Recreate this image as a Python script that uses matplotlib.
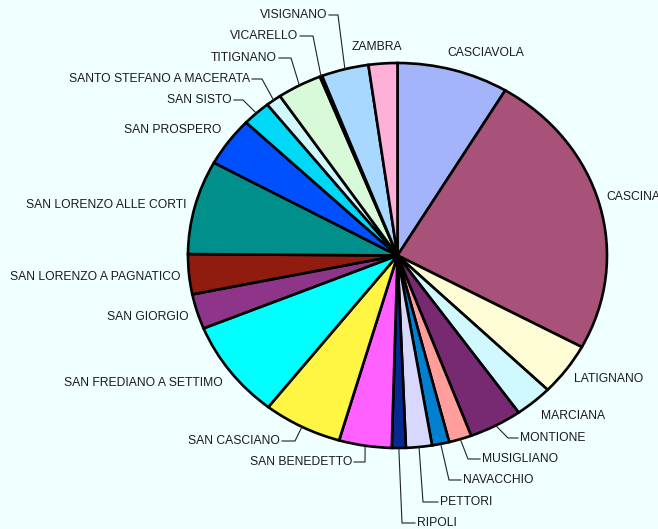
import numpy as np
import matplotlib
matplotlib.use('Agg')
import matplotlib.pyplot as plt

# frazioni, in clockwise order from 12 o'clock
names = ['CASCIAVOLA', 'CASCINA', 'LATIGNANO', 'MARCIANA', 'MONTIONE',
         'MUSIGLIANO', 'NAVACCHIO', 'PETTORI', 'RIPOLI', 'SAN BENEDETTO',
         'SAN CASCIANO', 'SAN FREDIANO A SETTIMO', 'SAN GIORGIO',
         'SAN LORENZO A PAGNATICO', 'SAN LORENZO ALLE CORTI', 'SAN PROSPERO',
         'SAN SISTO', 'SANTO STEFANO A MACERATA', 'TITIGNANO', 'VICARELLO',
         'VISIGNANO', 'ZAMBRA']
shares = [8.6, 24.3, 4.4, 2.9, 4.1,
          1.75, 1.33, 2.0, 1.08, 4.06,
          6.08, 8.25, 2.94,
          3.36, 7.89, 4.14,
          2.19, 1.19, 3.44, 0.18,
          3.64, 2.22]
colors = ['#a4b4fa', '#a8527a', '#fffdd6', '#d0f8ff', '#772a72',
          '#ff9e9a', '#0280d0', '#d8d8ff', '#062a90', '#ff60ff',
          '#fff644', '#00ffff', '#8e3589',
          '#901c10', '#008f8b', '#0050ff',
          '#00d8f8', '#d0f8ff', '#d8fad8', '#ffffa0',
          '#a8d8ff', '#ffb0d8']

# label layout in pixels: (x, y, ha, elbow_x or None)
layout = {
    'CASCIAVOLA': (447, 53, 'left', None),
    'CASCINA': (606, 197, 'left', None),
    'LATIGNANO': (574, 379, 'left', None),
    'MARCIANA': (541, 416, 'left', None),
    'MONTIONE': (520, 438, 'left', 508),
    'MUSIGLIANO': (482, 459, 'left', 468),
    'NAVACCHIO': (463, 480, 'left', 449),
    'PETTORI': (440, 502, 'left', 423),
    'RIPOLI': (417, 523, 'left', 402),
    'SAN BENEDETTO': (352, 462, 'right', 365),
    'SAN CASCIANO': (280, 441, 'right', 295),
    'SAN FREDIANO A SETTIMO': (223, 383, 'right', None),
    'SAN GIORGIO': (189, 317, 'right', None),
    'SAN LORENZO A PAGNATICO': (181, 277, 'right', None),
    'SAN LORENZO ALLE CORTI': (187, 205, 'right', None),
    'SAN PROSPERO': (221, 130, 'right', None),
    'SAN SISTO': (232, 100, 'right', 243),
    'SANTO STEFANO A MACERATA': (250, 79, 'right', 262),
    'TITIGNANO': (277, 58, 'right', 291),
    'VICARELLO': (298, 36, 'right', 313),
    'VISIGNANO': (327, 15, 'right', 338),
    'ZAMBRA': (352, 47, 'left', None),
}

W, H = 658, 529
cx, cy, rx, ry = 397.5, 255.5, 209.5, 192.5
bg = '#f0ffff'

def px(x, y):
    return (x - cx) / rx, (cy - y) / ry

fig = plt.figure(figsize=(W / 100, H / 100), dpi=100, facecolor=bg)
ax = fig.add_axes([0, 0, 1, 1])
ax.set_facecolor(bg)

wedges, _ = ax.pie(shares, colors=colors, startangle=90, counterclock=False,
                   radius=1, wedgeprops=dict(edgecolor='black', linewidth=1.9))
ax.set_aspect('auto')
ax.set_xlim(-cx / rx, (W - cx) / rx)
ax.set_ylim(-(H - cy) / ry, cy / ry)
ax.axis('off')

font = dict(family=['Liberation Sans', 'DejaVu Sans'], size=8.7, color='#1a1a1a')
for w, name in zip(wedges, names):
    x, y, ha, elbow = layout[name]
    tx, ty = px(x, y)
    ax.text(tx, ty, name, ha=ha, va='center', **font)
    if elbow is not None:
        mid = np.deg2rad((w.theta1 + w.theta2) / 2)
        rim = (np.cos(mid), np.sin(mid))
        ex, ey = px(elbow, y)
        sx, _ = px(x - 2 if ha == 'left' else x + 2, y)
        ax.plot([rim[0], ex, sx], [rim[1], ey, ty], color='#222222', lw=0.8)

fig.savefig('out.png', dpi=100, facecolor=bg)
